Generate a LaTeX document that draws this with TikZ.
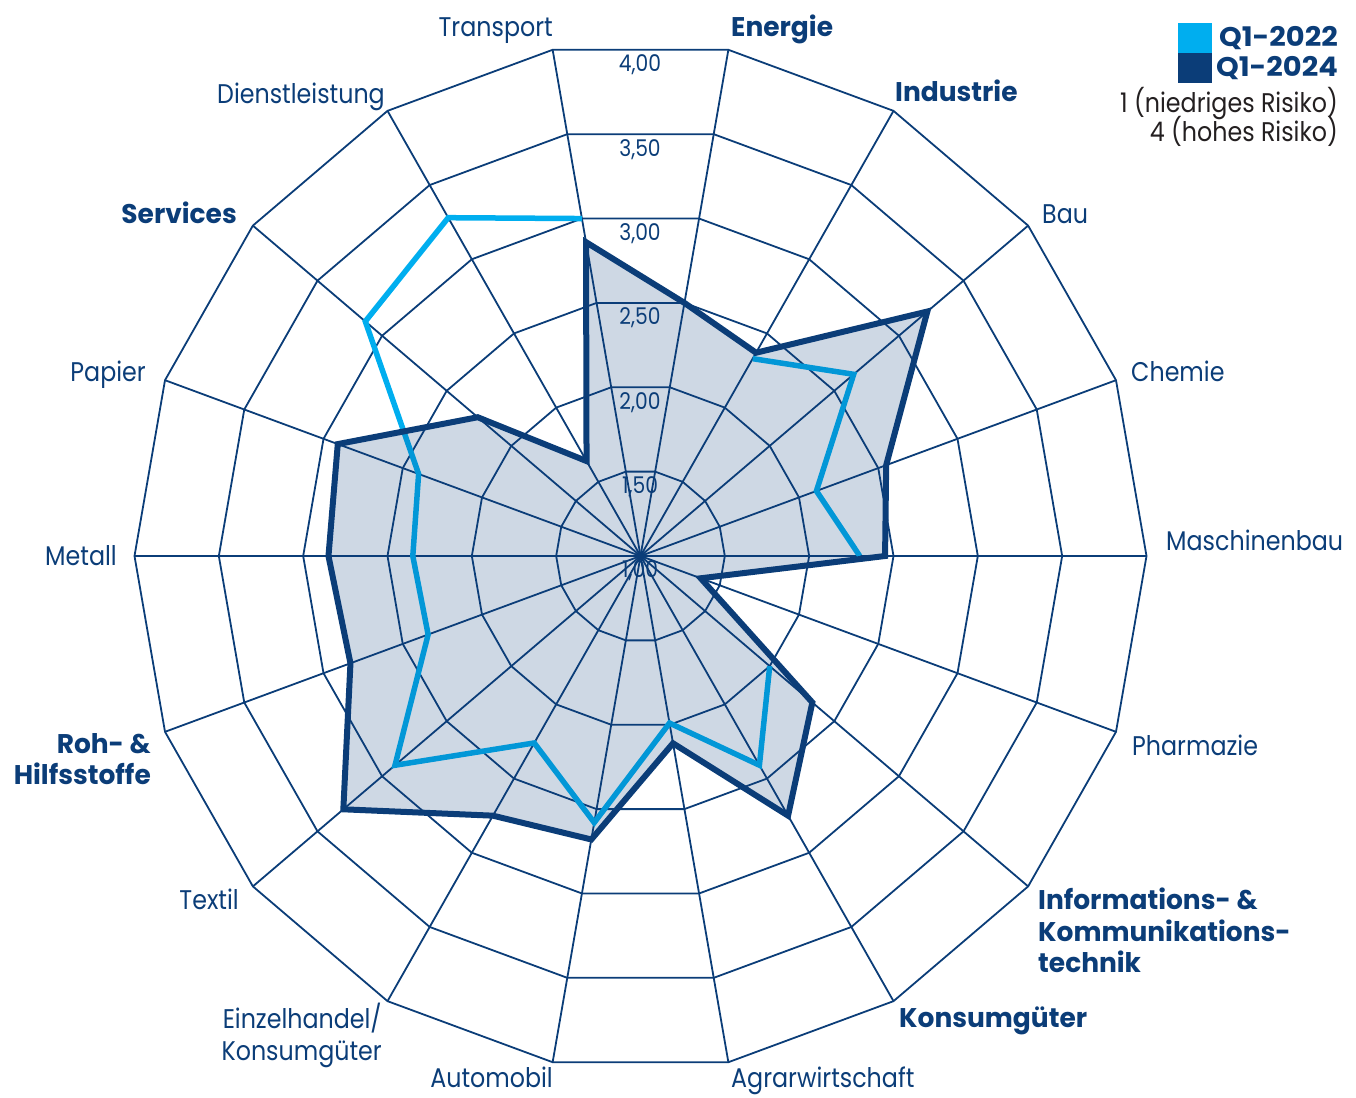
\documentclass[tikz,border=0pt]{standalone}
\usepackage{fontspec}
\setmainfont{Poppins}[FakeStretch=0.88]
\newfontfamily\wbold{Poppins}[FakeStretch=0.98]
\newfontfamily\wboldleg{Poppins}[FakeStretch=1.07]
\definecolor{navy}{HTML}{0B3D78}
\definecolor{cyanq}{HTML}{00AEEF}
\definecolor{legtxt}{HTML}{231F20}
\begin{document}
\begin{tikzpicture}[x=1pt,y=-1pt,
  lab/.style={text=navy, font=\fontsize{27}{31.5}\selectfont, inner sep=0pt},
  blab/.style={text=navy, font=\fontsize{27}{31.5}\selectfont\wbold\bfseries, inner sep=0pt},
  leglab/.style={text=navy, font=\fontsize{27}{31.5}\selectfont\wboldleg\bfseries, inner sep=0pt},
  ringlab/.style={text=navy, font=\fontsize{23}{26}\selectfont, inner sep=0pt},
  gridline/.style={draw=navy, line width=1.8pt},
  oldline/.style={draw=cyanq, line width=5.5pt},
  newline/.style={draw=navy, line width=6pt, line join=miter},
  newfill/.style={fill=navy, fill opacity=0.2}]
\useasboundingbox (0,0) rectangle (1356,1097);

% ring value labels
\foreach \k/\t in {0/{1,00},1/{1,50},2/{2,00},3/{2,50},4/{3,00},5/{3,50},6/{4,00}}
  \node[ringlab] (rl\k) at (640,{556-84.36*\k+15}) {\t};

\begin{scope}[shift={(640.5,556)}, x=506pt, y=514pt]
  \coordinate (c) at (0,0);
  \foreach \i in {0,...,17} \coordinate (v\i) at ({\i*20}:1);
  % rings
  \foreach \k in {1,...,6}
    \draw[gridline] (0:{\k/6}) \foreach \j in {1,...,17}{ -- ({\j*20}:{\k/6})} -- cycle;
  % axes
  \foreach \i in {0,...,17} \draw[gridline] (c) -- (v\i);

  % Q1-2022 data points
  \foreach \a/\v [count=\n] in {60/2.33, 40/2.65, 20/2.11, 0/2.30}
    \coordinate (p\n) at (\a:{(\v-1)/3});
  \foreach \a/\v [count=\n] in {-40/2.00, -60/2.41, -80/1.99, -100/2.58, -120/2.26, -140/2.90,
      -160/2.34, 180/2.35, 160/2.40, 140/3.13, 120/3.28, 100/3.00}
    \coordinate (q\n) at (\a:{(\v-1)/3});
  \draw[oldline] (p1) -- (p2) -- (p3) -- (p4);
  \draw[oldline] (q1) \foreach \n in {2,...,12}{ -- (q\n)};

  % Q1-2024 data points
  \foreach \a/\v [count=\n] in {100/2.86, 80/2.50, 60/2.37, 40/3.22, 20/2.55, 0/2.45, -20/1.38,
      -40/2.33, -60/2.75, -80/2.11, -100/2.68, -120/2.75, -140/3.30, -160/2.83, 180/2.85,
      160/2.91, 140/2.26, 120/1.64}
    \coordinate (d\n) at (\a:{(\v-1)/3});
  \path[newfill] (d1) \foreach \n in {2,...,18}{ -- (d\n)} -- cycle;
  \draw[newline] (d1) \foreach \n in {2,...,18}{ -- (d\n)} -- cycle;
\end{scope}

% axis labels
\node[lab, anchor=base east] (tTransport) at (553,37) {Transport};
\node[blab, anchor=base west] (tEnergie) at (731,37) {Energie};
\node[blab, anchor=base west] (tIndustrie) at (895,102) {Industrie};
\node[lab, anchor=base west] (tBau) at (1042,223) {Bau};
\node[lab, anchor=base west] (tChemie) at (1131,381) {Chemie};
\node[lab, anchor=base west] (tMaschinenbau) at (1166,550) {Maschinenbau};
\node[lab, anchor=base west] (tPharmazie) at (1132,755) {Pharmazie};
\node[blab, anchor=north west, align=left] (tIKT) at (1038,888) {Informations- \&\\Kommunikations-\\technik};
\node[blab, anchor=base west] (tKonsum) at (899,1027) {Konsumgüter};
\node[lab, anchor=base west] (tAgrar) at (731,1087) {Agrarwirtschaft};
\node[lab, anchor=base east] (tAuto) at (553,1087) {Automobil};
\node[lab, anchor=north east, align=right] (tEinzel) at (382,1003) {Einzelhandel/\\Konsumgüter};
\node[lab, anchor=base east] (tTextil) at (239,909) {Textil};
\node[blab, anchor=north east, align=right] (tRoh) at (151,733) {Roh- \&\\Hilfsstoffe};
\node[lab, anchor=base east] (tMetall) at (117,565) {Metall};
\node[lab, anchor=base east] (tPapier) at (146,381) {Papier};
\node[blab, anchor=base east] (tServices) at (237,223) {Services};
\node[lab, anchor=base east] (tDienst) at (385,103) {Dienstleistung};

% legend
\fill[cyanq] (1178,23) rectangle (1212,53);
\fill[navy] (1178,53) rectangle (1212,83);
\node[leglab, anchor=base east] (lq1) at (1338,47) {Q1-2022};
\node[leglab, anchor=base east] (lq2) at (1338,77) {Q1-2024};
\node[lab, text=legtxt, anchor=base east] (lr1) at (1338,113) {1 (niedriges Risiko)};
\node[lab, text=legtxt, anchor=base east] (lr2) at (1338,142) {4 (hohes Risiko)};
\end{tikzpicture}
\end{document}
